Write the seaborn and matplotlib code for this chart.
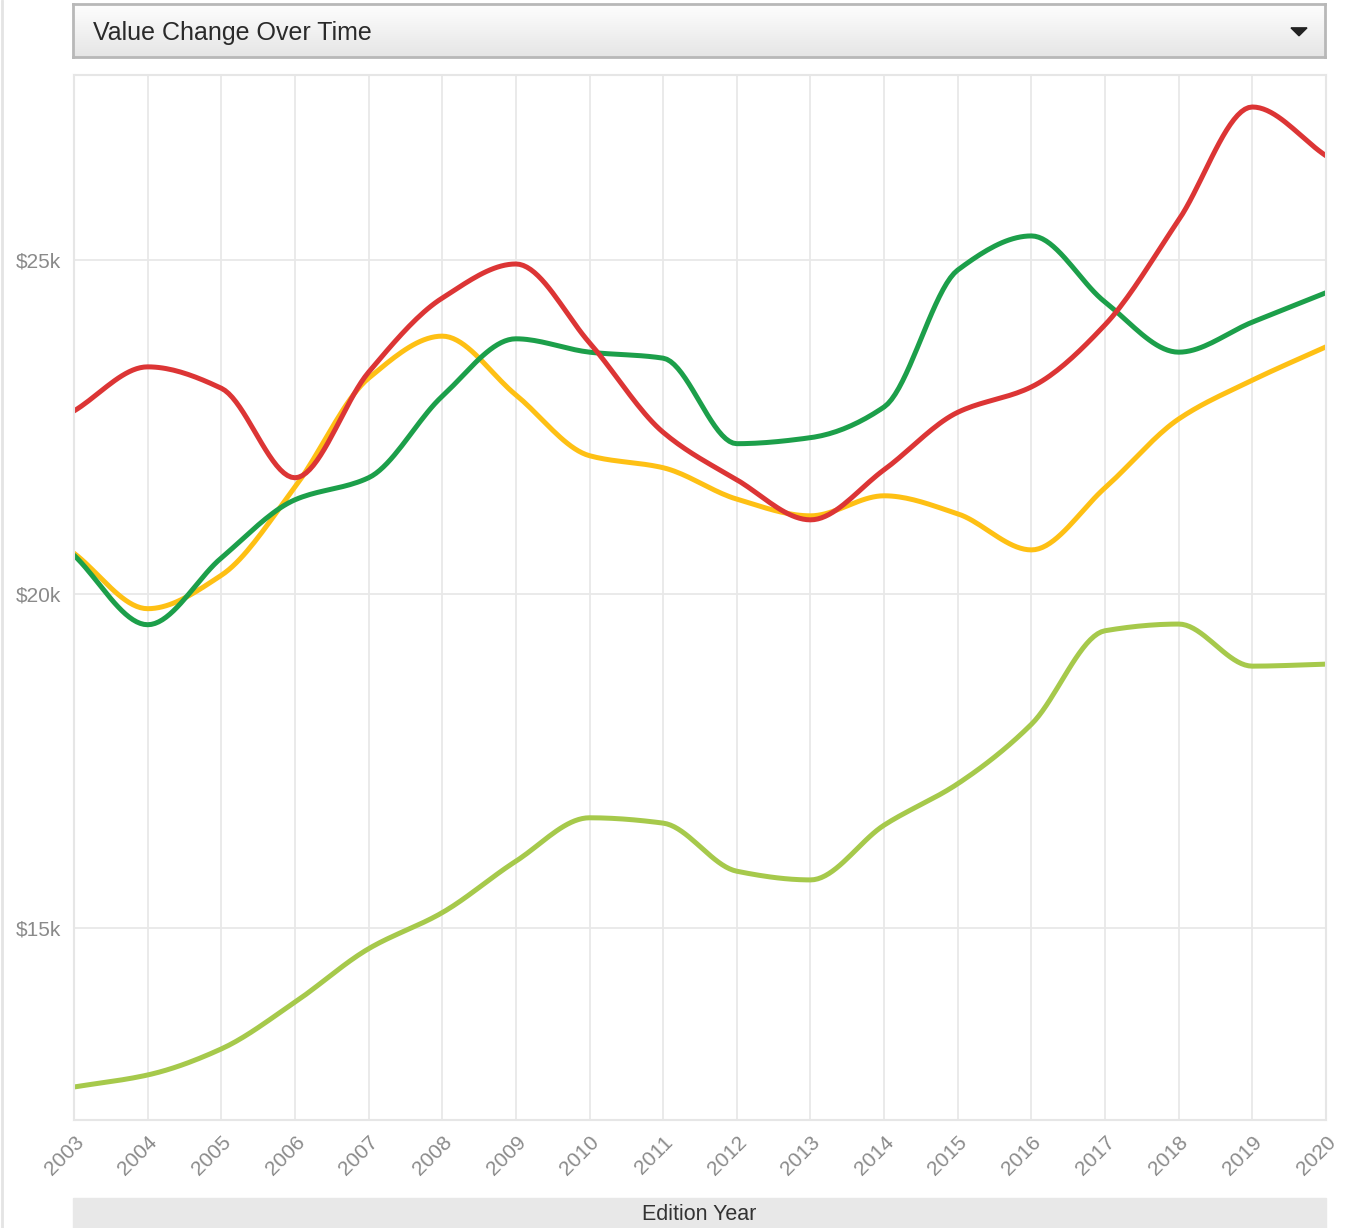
import numpy as np
import pandas as pd
import matplotlib
matplotlib.use("Agg")
import matplotlib.pyplot as plt
import seaborn as sns
from matplotlib.patches import Rectangle, Polygon

years = list(range(2003, 2021))

red_vals = [22740, 23400, 23080, 21740, 23320, 24430, 24940, 23760, 22420,
            21710, 21110, 21860, 22720, 23100, 24030, 25600, 27290, 26560]
yellow_vals = [20610, 19780, 20280, 21600, 23230, 23860, 22980, 22070, 21890,
               21420, 21170, 21470, 21200, 20660, 21590, 22620, 23200, 23700]
green_vals = [20580, 19540, 20540, 21410, 21740, 22960, 23820, 23620, 23530,
              22250, 22340, 22800, 24850, 25360, 24370, 23620, 24070, 24510]
lime_vals = [12620, 12800, 13190, 13890, 14690, 15230, 16000, 16650, 16570,
             15850, 15720, 16540, 17160, 18050, 19450, 19550, 18920, 18950]

series_names = ["Series D", "Series B", "Series C", "Series A"]
series_vals = [lime_vals, yellow_vals, green_vals, red_vals]
palette = {"Series A": "#dc3535", "Series B": "#fec014",
           "Series C": "#1c9f4a", "Series D": "#a6c94b"}

y_ticks = [15000, 20000, 25000]
y_labels = ["$15k", "$20k", "$25k"]


def monotone_curve(x, y, n=20):
    # monotone cubic (Fritsch-Carlson) so the line is drawn smooth like the original
    x = np.asarray(x, float)
    y = np.asarray(y, float)
    h = np.diff(x)
    d = np.diff(y) / h
    m = np.zeros_like(y)
    m[0], m[-1] = d[0], d[-1]
    for i in range(1, len(y) - 1):
        if d[i - 1] * d[i] <= 0:
            m[i] = 0
        else:
            m[i] = 2 / (1 / d[i - 1] + 1 / d[i])
    xs, ys = [], []
    for i in range(len(x) - 1):
        t = np.linspace(0, 1, n, endpoint=False)
        h00 = 2 * t**3 - 3 * t**2 + 1
        h10 = t**3 - 2 * t**2 + t
        h01 = -2 * t**3 + 3 * t**2
        h11 = t**3 - t**2
        xs.extend(x[i] + t * h[i])
        ys.extend(h00 * y[i] + h10 * h[i] * m[i] + h01 * y[i + 1] + h11 * h[i] * m[i + 1])
    xs.append(x[-1])
    ys.append(y[-1])
    return xs, ys


rows = []
for name, vals in zip(series_names, series_vals):
    xs, ys = monotone_curve(years, vals)
    for a, b in zip(xs, ys):
        rows.append({"year": a, "value": b, "series": name})
df = pd.DataFrame(rows)

sns.set_style("white")
plt.rcParams['font.family'] = ['Liberation Sans', 'DejaVu Sans']

fig = plt.figure(figsize=(13.52, 12.28), dpi=100)
ax = fig.add_axes([74 / 1352, 1 - 1120 / 1228, 1252 / 1352, 1045 / 1228])

sns.lineplot(data=df, x="year", y="value", hue="series", hue_order=series_names,
             palette=palette, linewidth=3.6, sort=False, legend=False, ax=ax)

ax.set_xlim(2003, 2020)
ax.set_ylim(12126, 27769)
ax.set_xticks(years)
ax.set_xticklabels([str(y) for y in years], rotation=45, ha="right",
                   rotation_mode="anchor", color="#8a8a8a", fontsize=15)
ax.set_yticks(y_ticks)
ax.set_yticklabels(y_labels, color="#8a8a8a", fontsize=15)
ax.tick_params(axis="x", length=6, color="#e2e2e2", width=1.5, pad=3)
ax.tick_params(axis="y", length=6, color="#e2e2e2", width=1, pad=3)
ax.grid(True, color="#e8e8e8", linewidth=1.3)
ax.set_axisbelow(True)
for s in ax.spines.values():
    s.set_color("#e6e6e6")
    s.set_linewidth(1.5)
ax.set_xlabel("")
ax.set_ylabel("")

# dropdown box at top
grad = np.linspace(0.995, 0.90, 50).reshape(-1, 1)
gax = fig.add_axes([73 / 1352, 1 - 57 / 1228, 1252 / 1352, 53 / 1228])
gax.imshow(np.dstack([grad, grad, grad]), aspect="auto", extent=[0, 1, 0, 1])
gax.set_xticks([])
gax.set_yticks([])
for s in gax.spines.values():
    s.set_color("#b8b8b8")
    s.set_linewidth(2)
gax.text(20 / 1252, 0.45, "Value Change Over Time", fontsize=18, color="#2a2a2a",
         va="center", ha="left", transform=gax.transAxes)
gax.add_patch(Polygon([[1218 / 1252, 0.55], [1234 / 1252, 0.55], [1226 / 1252, 0.4]],
                      closed=True, color="#222222", transform=gax.transAxes))

# axis title bar
fig.patches.append(Rectangle((73 / 1352, 0), 1253 / 1352, 30 / 1228,
                             transform=fig.transFigure, color="#e8e8e8", zorder=0))
fig.text(699 / 1352, 13 / 1228, "Edition Year", fontsize=15.5, color="#333333",
         ha="center", va="center")

# faint border at left edge
fig.add_artist(plt.Line2D([2 / 1352, 2 / 1352], [0, 1], color="#e4e4e4", linewidth=2))

fig.savefig("out.png", dpi=100)
